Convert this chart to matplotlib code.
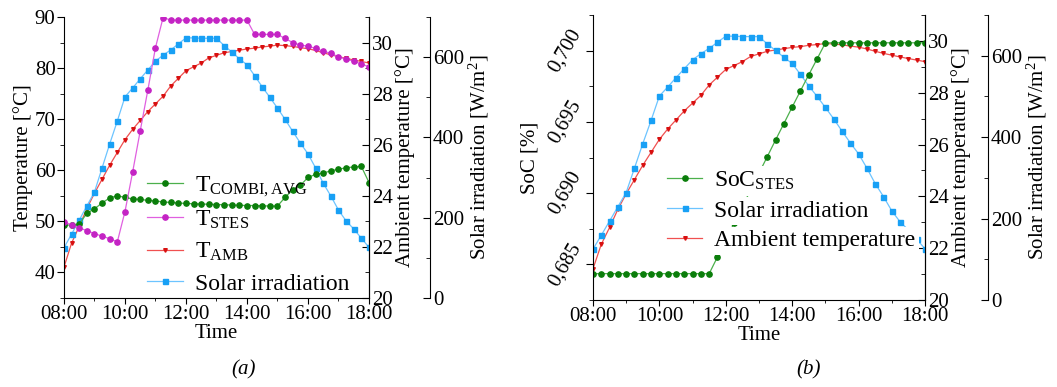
import numpy as np
import matplotlib
matplotlib.use('Agg')
from matplotlib import pyplot as plt
from matplotlib.ticker import MultipleLocator, FuncFormatter

plt.rcParams['font.family'] = ['Liberation Serif', 'DejaVu Serif']
plt.rcParams['mathtext.fontset'] = 'custom'
plt.rcParams['mathtext.rm'] = 'Liberation Serif'
plt.rcParams['mathtext.it'] = 'Liberation Serif:italic'

# 15 minute samples, 08:00 .. 18:00
hours = np.arange(8, 18.01, 0.25)
tick_hours = [8, 10, 12, 14, 16, 18]
tick_labels = ['08:00', '10:00', '12:00', '14:00', '16:00', '18:00']

solar = [125, 159, 194, 229, 264, 324, 384, 441, 501, 523, 546, 568, 590, 605,
         618, 633, 648, 648, 647, 647, 647, 629, 613, 596, 581, 554, 526, 500,
         473, 445, 415, 386, 359, 324, 286, 254, 219, 192, 172, 149, 126]

t_amb = [21.2, 22.15, 22.8, 23.5, 24.1, 24.65, 25.2, 25.7, 26.2, 26.6, 26.95,
         27.3, 27.6, 27.9, 28.3, 28.6, 28.9, 29.05, 29.2, 29.4, 29.5, 29.6,
         29.65, 29.7, 29.75, 29.78, 29.83, 29.86, 29.9, 29.88, 29.85, 29.8,
         29.76, 29.69, 29.6, 29.52, 29.45, 29.38, 29.32, 29.26, 29.2]

t_stes = [49.9, 49.3, 48.7, 48.2, 47.6, 47.1, 46.6, 46.0, 51.9, 59.6, 67.7,
          75.7, 84.0, 89.9, 89.4, 89.4, 89.4, 89.4, 89.4, 89.4, 89.4, 89.4,
          89.4, 89.4, 89.4, 86.6, 86.6, 86.6, 86.6, 85.8, 85.0, 84.5, 84.3,
          83.85, 83.3, 82.9, 82.2, 81.75, 81.35, 80.8, 80.25]

t_combi = [49.25, 49.3, 49.4, 51.6, 52.45, 53.6, 54.6, 55.0, 54.7, 54.4, 54.3,
           54.1, 54.0, 53.8, 53.7, 53.6, 53.5, 53.45, 53.4, 53.35, 53.3, 53.25,
           53.2, 53.15, 53.1, 53.1, 53.05, 53.0, 53.0, 54.7, 56.2, 57.05, 58.6,
           59.2, 59.45, 59.9, 60.2, 60.5, 60.65, 60.75, 57.6]

soc = [0.68435, 0.68435, 0.68435, 0.68435, 0.68435, 0.68435, 0.68435,
       0.68435, 0.68435, 0.68435, 0.68435, 0.68435, 0.68435, 0.68435,
       0.68435, 0.68552, 0.6867, 0.6879, 0.6891, 0.6902, 0.6914, 0.69256,
       0.69373, 0.69488, 0.69604, 0.69718, 0.69831, 0.69942, 0.70054,
       0.70055, 0.70055, 0.70055, 0.70055, 0.70055, 0.70055, 0.70055,
       0.70055, 0.70055, 0.70055, 0.70055, 0.70055]

# colours: (line, marker)
GREEN = ('#4cb04c', '#0a7d0a')
MAGENTA = ('#e060e0', '#c423c4')
RED = ('#f05050', '#d81010')
BLUE = ('#6cc4ff', '#18a0f5')

FS = 15
LEG_FS = 17


def series(ax, y, col, marker, ms, label):
    line, = ax.plot(hours, y, color=col[0], lw=0.9, marker=marker, ms=ms,
                    mfc=col[1], mec=col[1], label=label)
    return line


def style_time_axis(ax):
    ax.set_xlim(8, 18)
    ax.set_xticks(tick_hours)
    ax.set_xticklabels(tick_labels)
    ax.xaxis.set_minor_locator(MultipleLocator(1))
    ax.tick_params(axis='x', which='major', direction='out', length=4, labelsize=FS, pad=1)
    ax.tick_params(axis='x', which='minor', direction='out', length=2.5)
    ax.set_xlabel('Time', fontsize=FS, labelpad=0)


def make_right_axes(ax, offset):
    amb = ax.twinx()
    sol = ax.twinx()
    sol.spines['right'].set_position(('axes', offset))
    for a in (ax, amb, sol):
        a.spines['top'].set_visible(False)
    for a in (amb, sol):
        a.spines['left'].set_visible(False)
        a.spines['bottom'].set_visible(False)
    amb.set_ylim(20, 31)
    amb.yaxis.set_major_locator(MultipleLocator(2))
    amb.yaxis.set_minor_locator(MultipleLocator(1))
    amb.set_ylabel('Ambient temperature [°C]', fontsize=FS, labelpad=2)
    sol.set_ylim(0, 700)
    sol.yaxis.set_major_locator(MultipleLocator(200))
    sol.yaxis.set_minor_locator(MultipleLocator(100))
    sol.set_ylabel('Solar irradiation [W/m$^2$]', fontsize=FS, labelpad=2)
    for a in (amb, sol):
        a.tick_params(axis='y', which='major', direction='in', length=5, labelsize=FS, pad=2)
        a.tick_params(axis='y', which='minor', direction='in', length=3)
    ax.set_zorder(amb.get_zorder() + 2)
    ax.patch.set_visible(False)
    return amb, sol


fig = plt.figure(figsize=(10.57, 3.87), dpi=100)

# ---- (a) ----
axa = fig.add_axes([0.0605, 0.230, 0.2886, 0.726])
amb_a, sol_a = make_right_axes(axa, 1.2)
l1 = series(axa, t_combi, GREEN, 'o', 3.8, r'$\mathregular{T_{COMBI,AVG}}$')
l2 = series(axa, t_stes, MAGENTA, 'o', 3.8, r'$\mathregular{T_{STES}}$')
l3 = series(amb_a, t_amb, RED, 'v', 2.6, r'$\mathregular{T_{AMB}}$')
l4 = series(sol_a, solar, BLUE, 's', 3.6, 'Solar irradiation')
axa.set_ylim(35, 90)
axa.yaxis.set_major_locator(MultipleLocator(10))
axa.yaxis.set_minor_locator(MultipleLocator(5))
axa.tick_params(axis='y', which='major', direction='out', length=5, labelsize=FS, pad=1)
axa.tick_params(axis='y', which='minor', direction='out', length=3)
axa.set_ylabel('Temperature [°C]', fontsize=FS, labelpad=1)
style_time_axis(axa)
axa.legend(handles=[l1, l2, l3, l4], loc='lower left', bbox_to_anchor=(0.235, -0.03),
           frameon=False, fontsize=LEG_FS, numpoints=1, handlelength=1.5,
           handletextpad=0.5, labelspacing=0.42, borderpad=0.0)

# ---- (b) ----
axb = fig.add_axes([0.561, 0.2248, 0.3141, 0.7364])
amb_b, sol_b = make_right_axes(axb, 1.19)
m1 = series(axb, soc, GREEN, 'o', 3.8, r'$\mathregular{SoC_{STES}}$')
m2 = series(sol_b, solar, BLUE, 's', 3.6, 'Solar irradiation')
m3 = series(amb_b, t_amb, RED, 'v', 2.6, 'Ambient temperature')
axb.set_ylim(0.6825, 0.7025)
axb.yaxis.set_major_locator(MultipleLocator(0.005))
axb.yaxis.set_minor_locator(MultipleLocator(0.0025))
axb.yaxis.set_major_formatter(FuncFormatter(lambda v, p: ('%.3f' % v).replace('.', ',')))
axb.tick_params(axis='y', which='major', direction='out', length=5, labelsize=FS, pad=1)
axb.tick_params(axis='y', which='minor', direction='out', length=3)
for t in axb.get_yticklabels():
    t.set_rotation(60)
    t.set_va('center')
axb.set_ylabel('SoC [%]', fontsize=FS, labelpad=4)
style_time_axis(axb)
leg = axb.legend(handles=[m1, m2, m3], loc='lower left', bbox_to_anchor=(0.187, 0.13),
                 frameon=False, fontsize=LEG_FS, numpoints=1, handlelength=1.5,
                 handletextpad=0.5, labelspacing=0.34, borderpad=0.0)
# the legend texts hide the lines running behind them
for t in leg.get_texts():
    t.set_bbox(dict(facecolor='white', edgecolor='none', pad=2.5))

fig.text(0.23, 0.045, '(a)', fontsize=FS, style='italic', ha='center', va='center')
fig.text(0.765, 0.045, '(b)', fontsize=FS, style='italic', ha='center', va='center')

fig.savefig('out.png', dpi=100)
